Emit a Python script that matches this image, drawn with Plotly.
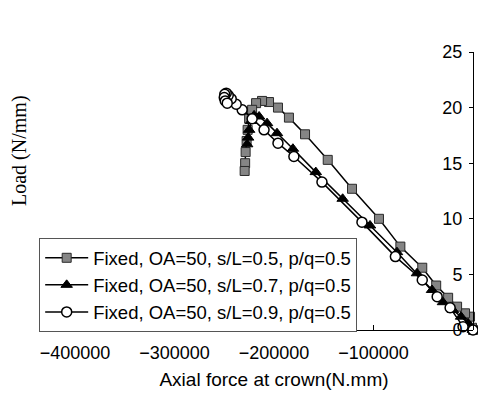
import plotly.graph_objects as go

# Series data
sq_x = [0, -1000, -3000, -8000, -16000, -25000, -37000, -51000, -73000, -94500,
        -121600, -146000, -168800, -185000, -196000, -205000, -212000, -218000,
        -222000, -225000, -226500, -227500, -228500, -229000, -229500]
sq_y = [0, 0.2, 1.2, 1.5, 2.1, 2.9, 4.0, 5.6, 7.5, 10.0,
        12.7, 15.3, 17.6, 19.1, 20.0, 20.5, 20.6, 20.4,
        19.8, 19.0, 18.0, 17.0, 16.0, 15.0, 14.3]

tr_x = [0, -5000, -12000, -20100, -30200, -41200, -56300, -76400, -103500,
        -131000, -158000, -181000, -197000, -207000, -215000, -220000,
        -223000, -225000, -226000, -227000]
tr_y = [0, 0.6, 1.2, 1.8, 2.5, 3.6, 5.1, 7.0, 9.4,
        11.8, 14.2, 16.3, 17.7, 18.6, 19.2, 19.3,
        18.8, 18.0, 17.3, 16.7]

ci_x = [0, -10000, -23000, -36000, -51000, -78000, -111600, -151800, -180000,
        -196000, -210000, -222000, -232000, -238000, -243000, -246000, -248000,
        -249500, -250000, -249000, -247000]
ci_y = [0, 0.3, 2.0, 3.0, 4.5, 6.6, 9.7, 13.3, 15.6,
        16.8, 18.0, 19.0, 19.8, 20.3, 20.8, 21.1, 21.3,
        21.2, 20.9, 20.6, 20.4]

names = ["Fixed, OA=50, s/L=0.5, p/q=0.5",
         "Fixed, OA=50, s/L=0.7, p/q=0.5",
         "Fixed, OA=50, s/L=0.9, p/q=0.5"]

x_ticks = [-400000, -300000, -200000, -100000, 0]
y_ticks = [0, 5, 10, 15, 20, 25]

fig = go.Figure()
fig.add_trace(go.Scatter(x=sq_x, y=sq_y, mode="lines+markers", name=names[0],
                         line=dict(color="black", width=1.5),
                         marker=dict(symbol="square", size=9, color="#858585",
                                     line=dict(color="#2a2a2a", width=1)),
                         cliponaxis=False))
fig.add_trace(go.Scatter(x=tr_x, y=tr_y, mode="lines+markers", name=names[1],
                         line=dict(color="black", width=1.5),
                         marker=dict(symbol="triangle-up", size=10, color="black",
                                     line=dict(color="black", width=1)),
                         cliponaxis=False))
fig.add_trace(go.Scatter(x=ci_x, y=ci_y, mode="lines+markers", name=names[2],
                         line=dict(color="black", width=1.5),
                         marker=dict(symbol="circle", size=10, color="white",
                                     line=dict(color="black", width=1.5)),
                         cliponaxis=False))

fig.update_layout(
    width=478, height=398,
    margin=dict(l=75, r=5, t=52, b=68),
    paper_bgcolor="white", plot_bgcolor="white",
    font=dict(family="Liberation Sans, Arial, sans-serif", size=18, color="black"),
    showlegend=True,
    legend=dict(x=-0.09, y=0.33, xanchor="left", yanchor="top",
                bgcolor="white", bordercolor="#555", borderwidth=1,
                font=dict(size=18.5), tracegroupgap=0, itemwidth=43),
    xaxis=dict(range=[-400000, 0], tickvals=x_ticks, tickformat="d",
               showline=True, linecolor="black", linewidth=1,
               ticks="inside", ticklen=5, tickcolor="black",
               ticklabelstandoff=6,
               showgrid=False, zeroline=False,
               title=dict(text="Axial force at crown(N.mm)", standoff=11,
                          font=dict(size=19))),
    yaxis=dict(range=[0, 25], tickvals=y_ticks, side="left",
               anchor="free", position=1,
               showline=True, linecolor="black", linewidth=1,
               ticks="outside", ticklen=4, tickcolor="black",
               ticklabelstandoff=3,
               showgrid=False, zeroline=False),
    annotations=[dict(text="Load (N/mm)", textangle=-90, x=-0.14, y=0.645,
                      xanchor="center", yanchor="middle",
                      xref="paper", yref="paper", showarrow=False,
                      font=dict(family="Liberation Serif, Times New Roman, serif",
                                size=20))],
)

fig.write_html("out.html")
